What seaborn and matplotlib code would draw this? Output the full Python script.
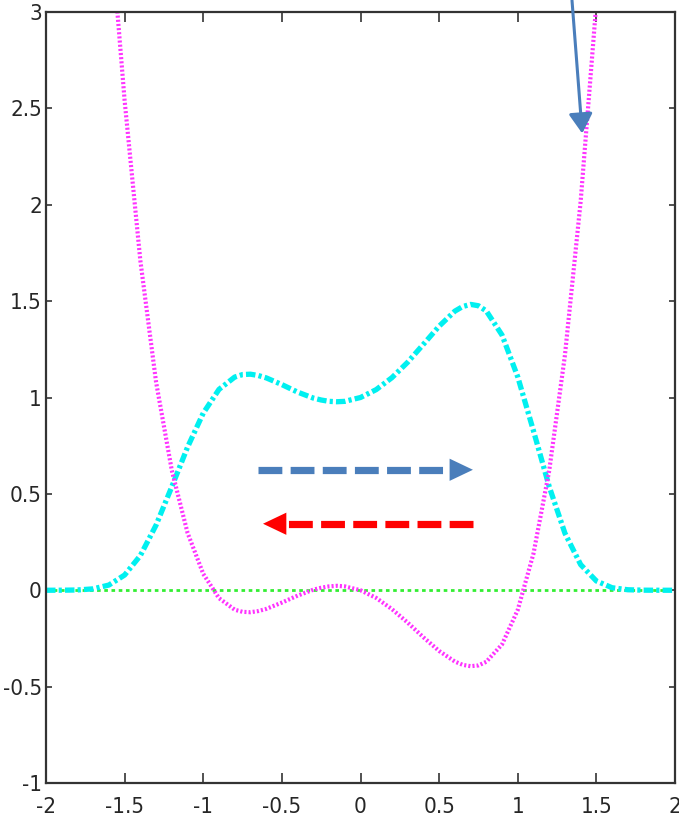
import matplotlib
matplotlib.use("Agg")
import numpy as np
import seaborn as sns
from matplotlib import pyplot as plt
from matplotlib import font_manager

# values
pot_x = [-1.6, -1.55, -1.5, -1.4, -1.3, -1.2, -1.1, -1.0, -0.9, -0.8, -0.75, -0.7, -0.65, -0.6,
         -0.5, -0.4, -0.3, -0.25, -0.2, -0.15, -0.1, 0.0, 0.1, 0.2, 0.3, 0.4, 0.5, 0.6, 0.65,
         0.7, 0.75, 0.8, 0.9, 1.0, 1.1, 1.2, 1.3, 1.4, 1.5, 1.6]
pot_y = [3.60, 3.04, 2.54, 1.71, 1.08, 0.622, 0.298, 0.085, -0.041, -0.101, -0.112, -0.114,
         -0.108, -0.097, -0.064, -0.028, 0.003, 0.013, 0.020, 0.023, 0.020, 0.0, -0.040,
         -0.098, -0.168, -0.244, -0.315, -0.370, -0.387, -0.394, -0.390, -0.371, -0.281,
         -0.102, 0.190, 0.620, 1.219, 2.017, 3.047, 4.35]

dens_x = [-2.0, -1.9, -1.8, -1.7, -1.6, -1.5, -1.4, -1.3, -1.2, -1.1, -1.0, -0.9, -0.8, -0.75,
          -0.7, -0.65, -0.6, -0.5, -0.4, -0.3, -0.25, -0.2, -0.15, -0.1, 0.0, 0.1, 0.2, 0.3,
          0.4, 0.5, 0.6, 0.65, 0.7, 0.75, 0.8, 0.9, 1.0, 1.1, 1.2, 1.3, 1.4, 1.5, 1.6, 1.7,
          1.8, 1.9, 2.0]
dens_y = [0.0, 0.0002, 0.0014, 0.0073, 0.027, 0.079, 0.180, 0.338, 0.537, 0.742, 0.919, 1.042,
          1.106, 1.119, 1.121, 1.114, 1.102, 1.067, 1.028, 0.997, 0.987, 0.980, 0.978, 0.980,
          1.0, 1.041, 1.103, 1.183, 1.276, 1.370, 1.448, 1.472, 1.483, 1.476, 1.449, 1.324,
          1.107, 0.827, 0.538, 0.296, 0.133, 0.048, 0.013, 0.0026, 0.0004, 0.0, 0.0]

zero_x = [-2.0, 2.0]
zero_y = [0.0, 0.0]

# dashed arrows: shaft start, head base, tip, height
right_arrow = [-0.65, 0.555, 0.715, 0.625]
left_arrow = [0.715, -0.475, -0.62, 0.345]
# solid arrow from above the frame
top_arrow = [(1.345, 3.06), (1.41, 2.37)]

xticks = [-2, -1.5, -1, -0.5, 0, 0.5, 1, 1.5, 2]
xlabels = ['-2', '-1.5', '-1', '-0.5', '0', '0.5', '1', '1.5', '2']
yticks = [-1, -0.5, 0, 0.5, 1, 1.5, 2, 2.5, 3]
ylabels = ['-1', '-0.5', '0', '0.5', '1', '1.5', '2', '2.5', '3']

sns.set_style("white")
plt.rcParams['font.family'] = ['Liberation Sans', 'DejaVu Sans']

# look for a narrow sans face for the tick labels
tick_font = None
for f in font_manager.fontManager.ttflist:
    narrow = 'Narrow' in f.name or 'Condensed' in f.name or f.stretch in ('condensed', 'semi-condensed')
    if narrow and f.weight in (400, 'normal', 'regular') and f.style == 'normal':
        if tick_font is None or 'Liberation' in f.name:
            tick_font = f.fname
if tick_font:
    tprops = font_manager.FontProperties(fname=tick_font, size=16)
else:
    tprops = font_manager.FontProperties(family='Liberation Sans', size=14.5)

fig = plt.figure(figsize=(6.79, 8.19), dpi=100)
ax = fig.add_axes([46 / 679, 36 / 819, 629 / 679, 771 / 819])

blue = '#4a7ebb'
red = '#ff0000'

sns.lineplot(x=zero_x, y=zero_y, ax=ax, color='#33ee33', lw=2.0,
             linestyle=(0, (1.3, 1.3)), estimator=None, sort=False)
sns.lineplot(x=dens_x, y=dens_y, ax=ax, color='#00f0f0', lw=3.8,
             linestyle=(0, (1.8, 0.6, 0.6, 0.6)), estimator=None, sort=False)
sns.lineplot(x=pot_x, y=pot_y, ax=ax, color='#ff33ff', lw=3.0,
             linestyle=(0, (0.5, 0.5)), estimator=None, sort=False)

# dashed arrows
for arr, c in [(right_arrow, blue), (left_arrow, red)]:
    start, base, tip, yy = arr
    ax.plot([start, base], [yy, yy], color=c, lw=5.2,
            linestyle=(0, (3.3, 1.15)), solid_capstyle='butt', dash_capstyle='butt')
    ax.annotate('', xy=(tip, yy), xytext=(base - (tip - base), yy),
                arrowprops=dict(arrowstyle='-|>,head_length=0.42,head_width=0.2',
                                mutation_scale=40, color=c, lw=0,
                                shrinkA=0, shrinkB=0))

ax.annotate('', xy=top_arrow[1], xytext=top_arrow[0], annotation_clip=False,
            arrowprops=dict(arrowstyle='-|>,head_length=0.5,head_width=0.3',
                            mutation_scale=24, color=blue, lw=2.2,
                            shrinkA=0, shrinkB=0))

ax.set_xlim(-2, 2)
ax.set_ylim(-1, 3)
ax.set_xticks(xticks)
ax.set_xticklabels(xlabels, fontproperties=tprops)
ax.set_yticks(yticks)
ax.set_yticklabels(ylabels, fontproperties=tprops)
ax.set_xlabel('')
ax.set_ylabel('')

ax.tick_params(axis='x', direction='in', top=True, bottom=True, length=7.5, width=1.2,
               pad=10, color='#333333')
ax.tick_params(axis='y', direction='in', left=True, right=True, length=4.5, width=1.2,
               pad=3, color='#333333')
for sp in ax.spines.values():
    sp.set_visible(True)
    sp.set_color('#333333')
    sp.set_linewidth(1.6)

fig.savefig('out.png', dpi=100)
